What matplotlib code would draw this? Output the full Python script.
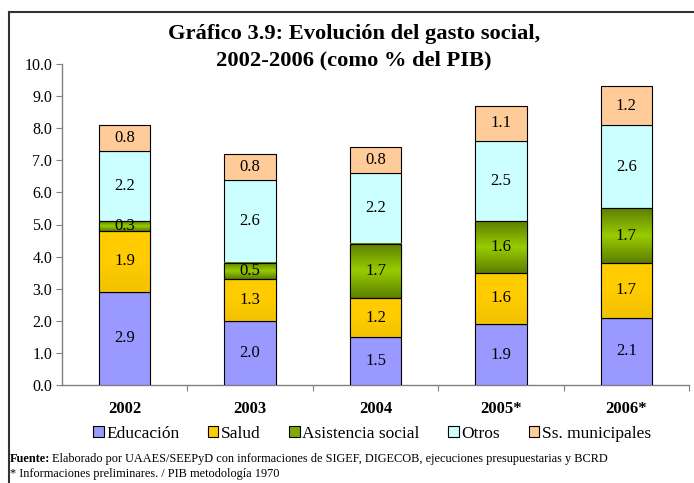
import numpy as np
import matplotlib
matplotlib.use("Agg")
import matplotlib.pyplot as plt
from matplotlib.colors import LinearSegmentedColormap
from matplotlib.lines import Line2D

plt.rcParams['font.family'] = ['Liberation Serif', 'DejaVu Serif']

years = ["2002", "2003", "2004", "2005*", "2006*"]
educacion = [2.9, 2.0, 1.5, 1.9, 2.1]
salud = [1.9, 1.3, 1.2, 1.6, 1.7]
asistencia = [0.3, 0.5, 1.7, 1.6, 1.7]
otros = [2.2, 2.6, 2.2, 2.5, 2.6]
municipales = [0.8, 0.8, 0.8, 1.1, 1.2]

series_names = ["Educación", "Salud", "Asistencia social", "Otros", "Ss. municipales"]
colors = ["#9999FF", "#FFCC00", "#99CC00", "#CCFFFF", "#FFCC99"]

fig = plt.figure(figsize=(6.94, 4.83), dpi=100)
ax = fig.add_axes([62 / 694, 1 - 385 / 483, 627 / 694, 321 / 483])

x = np.arange(len(years))
width = 0.41
bottom = np.zeros(len(years))
green_cmap = LinearSegmentedColormap.from_list("g", ["#5E7F00", "#99CC00", "#5E7F00"])
salud_cmap = LinearSegmentedColormap.from_list("s", ["#F2C100", "#FFCC00", "#FFCC00"])
grad = np.linspace(0, 1, 64).reshape(-1, 1)

for vals, name, col in zip([educacion, salud, asistencia, otros, municipales], series_names, colors):
    vals = np.array(vals)
    ax.bar(x, vals, width, bottom=bottom, color=col, edgecolor="black", linewidth=0.8,
           label=name, zorder=3)
    if name in ("Asistencia social", "Salud"):
        cmap = green_cmap if name == "Asistencia social" else salud_cmap
        for xi, b, v in zip(x, bottom, vals):
            ax.imshow(grad, cmap=cmap, aspect="auto", origin="lower",
                      extent=[xi - width / 2, xi + width / 2, b, b + v], zorder=3.5)
            ax.add_patch(plt.Rectangle((xi - width / 2, b), width, v, fill=False,
                                       edgecolor="black", linewidth=0.8, zorder=4))
    for xi, b, v in zip(x, bottom, vals):
        ax.text(xi, b + v / 2, f"{v:.1f}", ha="center", va="center", fontsize=12, zorder=5)
    bottom = bottom + vals

ax.set_xlim(-0.5, len(years) - 0.5)
ax.set_ylim(0, 10)
yt = np.arange(0, 10.01, 1.0)
ax.set_yticks(yt)
ax.set_yticklabels([f"{v:.1f}" for v in yt], fontsize=11.5)
ax.set_xticks(np.arange(0.5, len(years), 1.0))
ax.set_xticklabels([])
ax.tick_params(axis="x", direction="out", length=4, color="#808080")
ax.tick_params(axis="y", direction="out", length=4, color="#808080", pad=3)
for yi, lab in zip(x, years):
    ax.text(yi, -0.75, lab, ha="center", va="center", fontsize=12, fontweight="bold")
for s in ("top", "right"):
    ax.spines[s].set_visible(False)
for s in ("left", "bottom"):
    ax.spines[s].set_color("#808080")
    ax.spines[s].set_linewidth(1.0)

labels = series_names
legend_colors = ["#9999FF", "#FFCC00", "#7FAA00", "#CCFFFF", "#FFCC99"]
handles = [plt.Rectangle((0, 0), 1, 1, facecolor=c, edgecolor="black", linewidth=0.8)
           for c in legend_colors]
fig.legend(handles, labels, loc="center", bbox_to_anchor=(372 / 694, 1 - 434 / 483), ncol=5,
           frameon=False, fontsize=12.5, handlelength=0.6, handleheight=0.6,
           handletextpad=0.15, columnspacing=1.65)

fig.text(354 / 694, 1 - 34 / 483, "Gráfico 3.9: Evolución del gasto social,",
         ha="center", va="center", fontsize=16.2, fontweight="bold")
fig.text(354 / 694, 1 - 60 / 483, "2002-2006 (como % del PIB)",
         ha="center", va="center", fontsize=16.2, fontweight="bold")

# footer
t1 = fig.text(10 / 694, 1 - 459 / 483, "Fuente:", ha="left", va="center", fontsize=8.8,
              fontweight="bold")
fig.canvas.draw()
bb = t1.get_window_extent()
fig.text((bb.x1 + 2) / 694, 1 - 459 / 483,
         "Elaborado por UAAES/SEEPyD con informaciones de SIGEF, DIGECOB, ejecuciones presupuestarias y BCRD",
         ha="left", va="center", fontsize=8.8)
fig.text(10 / 694, 1 - 474 / 483, "* Informaciones preliminares. / PIB metodología 1970",
         ha="left", va="center", fontsize=8.8)

# outer frame
fig.add_artist(Line2D([9 / 694, 9 / 694], [0, 1 - 12 / 483], color="#333333", linewidth=1.5,
                      transform=fig.transFigure))
fig.add_artist(Line2D([9 / 694, 693 / 694], [1 - 12 / 483, 1 - 12 / 483], color="#333333",
                      linewidth=1.5, transform=fig.transFigure))

fig.savefig("out.png", dpi=100)
